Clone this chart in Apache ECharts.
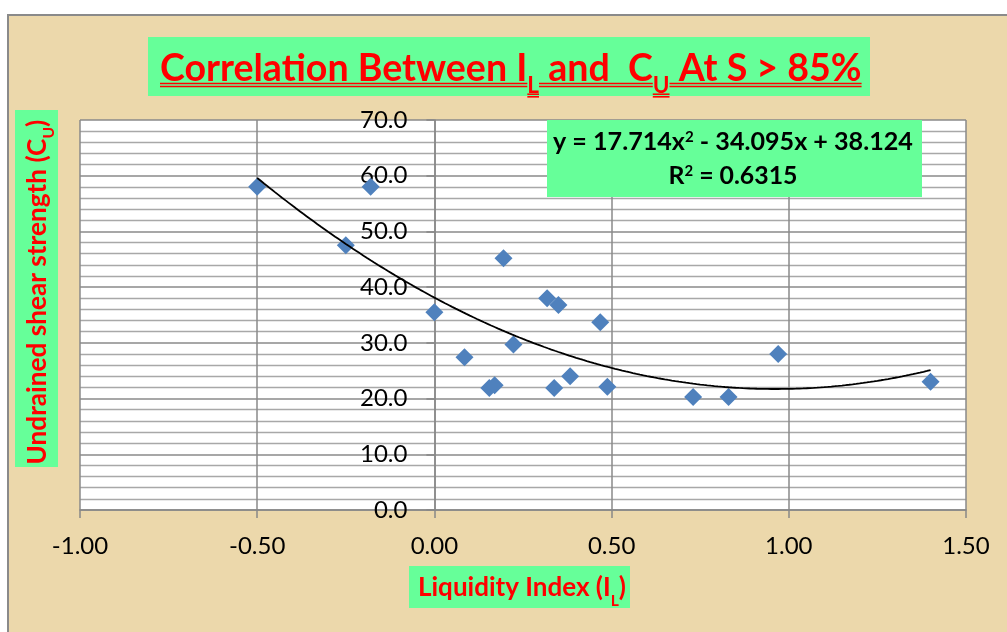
<!DOCTYPE html>
<html><head><meta charset="utf-8">
<script src="https://cdn.jsdelivr.net/npm/echarts@6/dist/echarts.min.js"></script>
<style>
html,body{margin:0;padding:0;background:#fff;}
#bg{position:absolute;left:7px;top:14px;width:1000px;height:618px;background:#ecd8ab;border-top:2px solid #8a8a8a;border-left:2px solid #8a8a8a;box-sizing:border-box;}
#c{position:absolute;left:0;top:0;width:1007px;height:632px;}
</style></head><body><div id="bg"></div><div id="c"></div>
<script>
// ---- data ----
const liquidityIndex = [-0.50, -0.18, -0.25, 0.00, 0.085, 0.155, 0.17, 0.195, 0.223, 0.318, 0.35, 0.338, 0.383, 0.468, 0.488, 0.73, 0.83, 0.97, 1.40];
const shearStrength  = [58.0, 58.0, 47.5, 35.5, 27.4, 21.9, 22.4, 45.2, 29.7, 38.0, 36.8, 21.9, 24.0, 33.7, 22.1, 20.3, 20.3, 28.0, 23.0];
const trendCoefficients = [17.714, -34.095, 38.124]; // a x^2 + b x + c (from chart label)
const trendRange = [-0.5, 1.4];
const xTicks = [-1.0, -0.5, 0.0, 0.5, 1.0, 1.5];
const yTicks = [0, 10, 20, 30, 40, 50, 60, 70];
const titleSegs = [['Correlation Between I',0],['L',1],[' and  C',0],['U',1],[' At S > 85%',0]];
const yNameSegs = [['Undrained shear strength (C',0],['U',1],[')',0]];
const xNameSegs = [['Liquidity Index (I',0],['L',1],[')',0]];
const eqLine1 = [['y = 17.714x',0],['2',2],[' - 34.095x + 38.124',0]];
const eqLine2 = [['R',0],['2',2],[' = 0.6315',0]];

// trend line points from the displayed regression equation
const trendData = [];
for (let i = 0; i <= 190; i++) {
  const x = trendRange[0] + (trendRange[1] - trendRange[0]) * i / 190;
  trendData.push([x, trendCoefficients[0]*x*x + trendCoefficients[1]*x + trendCoefficients[2]]);
}
const scatterData = liquidityIndex.map((x, i) => [x, shearStrength[i]]);

// ---- text helpers ----
const ctx = document.createElement('canvas').getContext('2d');
function fontStr(size){ return 'bold ' + size + 'px Lato'; }
function measure(t, font){ ctx.font = font; return ctx.measureText(t).width; }
function midOff(font){ ctx.font = font; ctx.textBaseline = 'middle'; return ctx.measureText('H').actualBoundingBoxDescent; }
function run(segs, cx, baseY, targetW, color, subRatio, shiftRatio, underline){
  const w100 = segs.reduce((s,[t,k]) => s + measure(t, fontStr(k ? 100*subRatio : 100)), 0);
  const size = 100 * targetW / w100;
  let x = cx - targetW/2;
  const els = [];
  segs.forEach(([t,k]) => {
    const sz = k ? size*subRatio : size;
    const f = fontStr(sz);
    const w = measure(t, f);
    const b = baseY + (k === 1 ? size*shiftRatio : k === 2 ? -size*shiftRatio : 0);
    els.push({type:'text', x:x, y:b - midOff(f), z:12, silent:true,
      style:{text:t, font:f, fill:color, textAlign:'left', verticalAlign:'middle'}});
    if (underline) {
      const offs = k ? [1.2, 3.8] : [2.5, 5.5];
      offs.forEach(o => els.push({type:'line', z:12, silent:true,
        shape:{x1:x, y1:b+o, x2:x+w, y2:b+o}, style:{stroke:color, lineWidth:1.6}}));
    }
    x += w;
  });
  return els;
}

const GREEN = '#66ff99', RED = '#ff0000';
const graphics = [
  {type:'rect', z:10, silent:true, shape:{x:148, y:37, width:722, height:59}, style:{fill:GREEN}},
  ...run(titleSegs, 511, 81, 702, RED, 0.6, 0.32, true),
  {type:'rect', z:10, silent:true, shape:{x:547, y:120, width:375, height:77}, style:{fill:GREEN}},
  ...run(eqLine1, 733, 150, 360, '#000', 0.6, 0.32, false),
  ...run(eqLine2, 733, 184, 129, '#000', 0.6, 0.32, false),
  {type:'rect', z:10, silent:true, shape:{x:15, y:110, width:43, height:357}, style:{fill:GREEN}},
  {type:'group', x:38, y:292, rotation:Math.PI/2, z:12,
    children: run(yNameSegs, 0, 8, 345, RED, 0.6, 0.3, false)},
  {type:'rect', z:10, silent:true, shape:{x:409, y:566, width:221, height:42}, style:{fill:GREEN}},
  ...run(xNameSegs, 522, 596, 208, RED, 0.6, 0.39, false)
];

const GRID_LEFT = 80;
const chart = echarts.init(document.getElementById('c'), null, {renderer:'canvas'});
chart.setOption({
  animation:false,
  backgroundColor:'transparent',
  grid:{left:GRID_LEFT, right:41, top:120, bottom:122, show:true, backgroundColor:'#fff', borderWidth:0},
  xAxis:{type:'value', min:xTicks[0], max:xTicks[xTicks.length-1], interval:0.5,
    axisLine:{show:true, onZero:false, lineStyle:{color:'#888', width:1.5}},
    axisTick:{show:true, length:8, lineStyle:{color:'#888', width:1.5}},
    axisLabel:{fontFamily:'Lato', fontSize:24, color:'#000', margin:24, formatter:v => v.toFixed(2)},
    splitLine:{show:true, lineStyle:{color:'#8a8a8a', width:1.5}}},
  yAxis:{type:'value', min:yTicks[0], max:yTicks[yTicks.length-1], interval:10,
    axisLine:{show:true, onZero:false, lineStyle:{color:'#888', width:1.5}},
    axisTick:{show:true, length:8, lineStyle:{color:'#888', width:1.5}},
    axisLabel:{fontFamily:'Lato', fontSize:24, color:'#000', margin:27, formatter:v => v.toFixed(1)},
    splitLine:{show:true, lineStyle:{color:'#8a8a8a', width:1.5}},
    minorTick:{show:false, splitNumber:5},
    minorSplitLine:{show:true, lineStyle:{color:'#a8a8a8', width:1.3}}},
  series:[
    {type:'scatter', data:scatterData, symbol:'diamond', symbolSize:18, z:2,
      itemStyle:{color:'#4f81bd', opacity:1}},
    {type:'line', data:trendData, showSymbol:false, symbol:'none', z:3,
      lineStyle:{color:'#000', width:1.8}}
  ],
  graphic:{elements:graphics}
});
// place the vertical axis where x = 0 (as in the reference)
const zeroPx = chart.convertToPixel({xAxisIndex:0}, 0);
chart.setOption({yAxis:{offset: -(zeroPx - GRID_LEFT)}});
</script></body></html>
